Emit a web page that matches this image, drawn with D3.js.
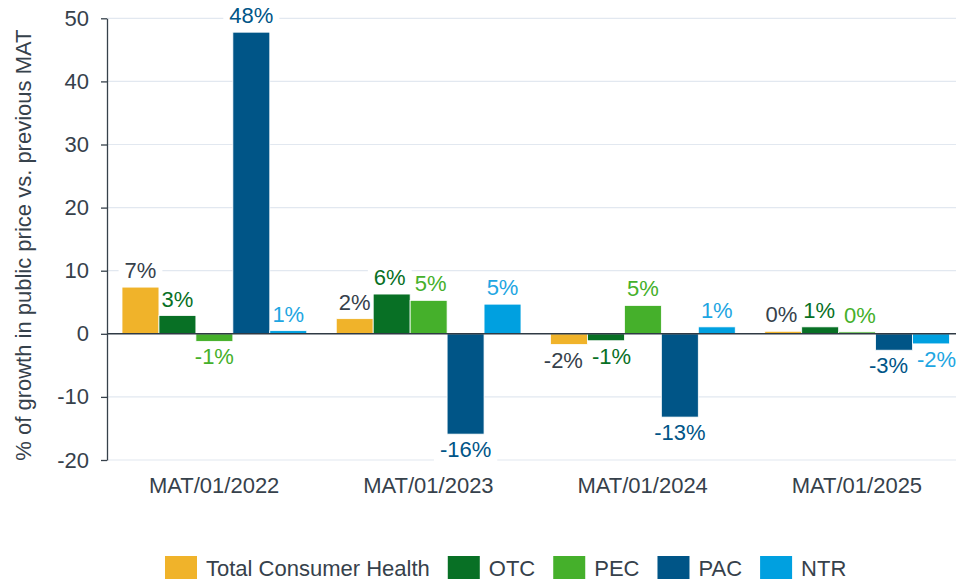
<!DOCTYPE html>
<html>
<head>
<meta charset="utf-8">
<script src="https://cdn.jsdelivr.net/npm/d3@7"></script>
<style>
  html, body { margin: 0; padding: 0; background: #fff; }
  svg { display: block; font-family: "Liberation Sans", Arial, sans-serif; }
</style>
</head>
<body>
<svg id="chart" width="956" height="582"></svg>
<script>
const categories = ["MAT/01/2022", "MAT/01/2023", "MAT/01/2024", "MAT/01/2025"];
const seriesNames = ["Total Consumer Health", "OTC", "PEC", "PAC", "NTR"];
const seriesColors = ["#f0b32a", "#087025", "#45b02b", "#005587", "#00a0e0"];
const labelColors = ["#36414b", "#087025", "#45b02b", "#005587", "#1ea6e2"];
const tchValues = [7.4, 2.4, -1.7, 0.4];
const otcValues = [2.9, 6.3, -1.1, 1.1];
const pecValues = [-1.2, 5.3, 4.5, 0.3];
const pacValues = [47.8, -15.9, -13.2, -2.6];
const ntrValues = [0.5, 4.7, 1.1, -1.6];
const valueLabels = [
  ["7%", "2%", "-2%", "0%"],
  ["3%", "6%", "-1%", "1%"],
  ["-1%", "5%", "5%", "0%"],
  ["48%", "-16%", "-13%", "-3%"],
  ["1%", "5%", "1%", "-2%"]
];
const yTicks = [-20, -10, 0, 10, 20, 30, 40, 50];
const yTitle = "% of growth in public price vs. previous MAT";

(function () {
const seriesValues = [tchValues, otcValues, pecValues, pacValues, ntrValues];
const textColor = "#36414b";
const fontSize = 22;

const svg = d3.select("#chart");
const mLeft = 107, mRight = 964, mTop = 18.3, mBottom = 460;

const y = d3.scaleLinear().domain([-20, 50]).range([mBottom, mTop]);
const x0 = d3.scaleBand().domain(categories).range([mLeft, mRight]).padding(0);
const x1 = d3.scaleBand().domain(seriesNames)
  .range([15, x0.bandwidth() - 14.5]).padding(0);

// gridlines
svg.append("g").selectAll("line").data(yTicks.filter(d => d !== 0)).join("line")
  .attr("x1", mLeft).attr("x2", 956)
  .attr("y1", d => y(d)).attr("y2", d => y(d))
  .attr("stroke", "#e2e8f0").attr("stroke-width", 1.2);

const bgLayer = svg.append("g");
const barLayer = svg.append("g");
const labelLayer = svg.append("g");

// bars
const groups = barLayer.selectAll("g").data(categories).join("g")
  .attr("transform", d => `translate(${x0(d)},0)`);

groups.each(function(cat, ci) {
  const g = d3.select(this);
  seriesNames.forEach((s, si) => {
    const v = seriesValues[si][ci];
    g.append("rect")
      .attr("x", x1(s))
      .attr("width", x1.bandwidth())
      .attr("y", y(Math.max(0, v)))
      .attr("height", Math.abs(y(v) - y(0)))
      .attr("fill", seriesColors[si])
      .attr("stroke", "#ffffff").attr("stroke-width", 0.8);
  });
});

// labels
categories.forEach((cat, ci) => {
  const items = [];
  seriesNames.forEach((s, si) => {
    const v = seriesValues[si][ci];
    const cx = x0(cat) + x1(s) + x1.bandwidth() / 2;
    const by = v >= 0 ? y(v) - 9 : y(v) + 23;
    const t = labelLayer.append("text")
      .attr("x", cx).attr("y", by)
      .attr("text-anchor", "middle")
      .attr("font-size", fontSize)
      .attr("fill", labelColors[si])
      .text(valueLabels[si][ci]);
    items.push({ t, cx, by, bb: t.node().getBBox() });
  });
  // simple collision avoidance between neighbouring labels
  for (let i = 0; i < items.length - 1; i++) {
    const a = items[i], b = items[i + 1];
    const vOverlap = Math.abs(a.by - b.by) < a.bb.height * 0.8;
    const need = (a.bb.width + b.bb.width) / 2 + 9;
    const dist = b.cx - a.cx;
    if (vOverlap && dist < need) {
      const shift = (need - dist) / 2;
      a.cx -= shift; b.cx += shift;
      a.t.attr("x", a.cx); b.t.attr("x", b.cx);
    }
  }
  items.forEach(it => {
    const bb = it.t.node().getBBox();
    bgLayer.append("rect")
      .attr("x", bb.x - 6).attr("y", bb.y + 1)
      .attr("width", bb.width + 12).attr("height", bb.height - 2)
      .attr("fill", "#fff");
  });
});

// zero line
svg.append("line")
  .attr("x1", mLeft).attr("x2", 956)
  .attr("y1", y(0)).attr("y2", y(0))
  .attr("stroke", "#2f3a44").attr("stroke-width", 1.5);

// y axis
const yAxis = svg.append("g")
  .attr("transform", `translate(${mLeft},0)`)
  .call(d3.axisLeft(y).tickValues(yTicks).tickFormat(d => String(d))
    .tickSize(6).tickPadding(12).tickSizeOuter(0));
yAxis.select(".domain").attr("stroke", textColor).attr("stroke-width", 1.3);
yAxis.selectAll(".tick line").attr("stroke", textColor).attr("stroke-width", 1.3);
yAxis.selectAll(".tick text")
  .attr("font-size", fontSize).attr("fill", textColor)
  .attr("font-family", "Liberation Sans, Arial, sans-serif");

// x axis labels
const xAxis = svg.append("g")
  .attr("transform", `translate(0,${mBottom})`)
  .call(d3.axisBottom(x0).tickSize(0).tickPadding(17));
xAxis.select(".domain").remove();
xAxis.selectAll(".tick text")
  .attr("font-size", fontSize).attr("fill", textColor)
  .attr("font-family", "Liberation Sans, Arial, sans-serif");

// y title
svg.append("text")
  .attr("transform", `translate(31,${(mTop + mBottom) / 2 + 6}) rotate(-90)`)
  .attr("text-anchor", "middle")
  .attr("font-size", fontSize)
  .attr("fill", textColor)
  .text(yTitle);

// legend
const legend = svg.append("g");
let lx = 165;
seriesNames.forEach((s, si) => {
  legend.append("rect")
    .attr("x", lx).attr("y", 556)
    .attr("width", 32).attr("height", 23)
    .attr("fill", seriesColors[si]);
  const t = legend.append("text")
    .attr("x", lx + 41).attr("y", 576)
    .attr("font-size", fontSize)
    .attr("fill", textColor)
    .text(s);
  lx = lx + 41 + t.node().getComputedTextLength() + 18;
});
})();
</script>
</body>
</html>
